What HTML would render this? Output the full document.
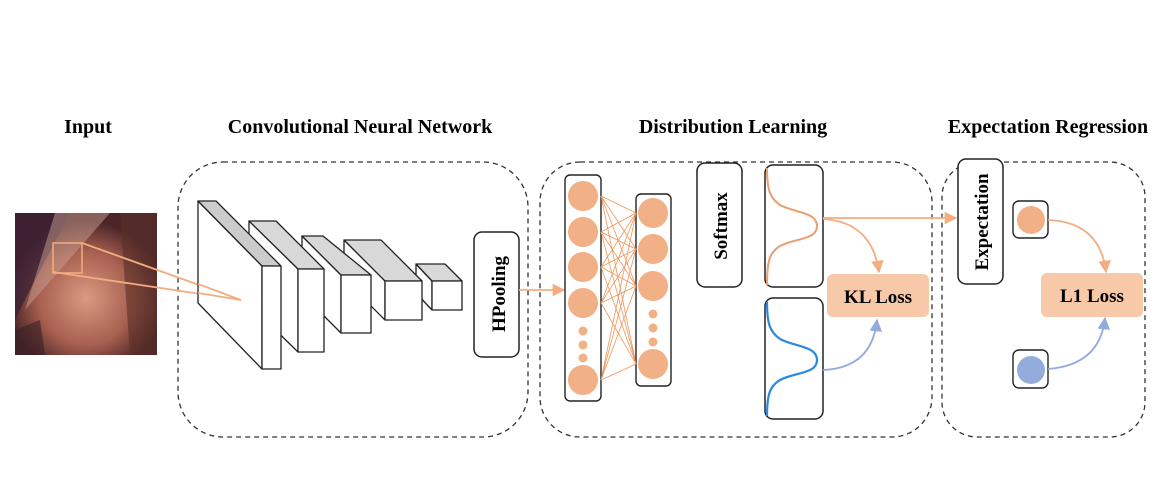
<!DOCTYPE html>
<html><head><style>
body{margin:0;background:#fff;width:1170px;height:492px;overflow:hidden}
text{font-family:"Liberation Serif",serif;font-weight:bold;fill:#000}
</style></head><body>
<svg width="1170" height="492" viewBox="0 0 1170 492" xmlns="http://www.w3.org/2000/svg">
<defs>
<marker id="ao" viewBox="0 0 10 10" refX="9" refY="5" markerWidth="7" markerHeight="7" orient="auto"><path d="M0,0L10,5L0,10z" fill="#f2ad80"/></marker>
<marker id="ab" viewBox="0 0 10 10" refX="9" refY="5" markerWidth="7" markerHeight="7" orient="auto"><path d="M0,0L10,5L0,10z" fill="#93acdc"/></marker>
<radialGradient id="face" cx="0.5" cy="0.6" r="0.55"><stop offset="0" stop-color="#d99a80"/><stop offset="0.6" stop-color="#a86050"/><stop offset="1" stop-color="#4a2428"/></radialGradient>
</defs>
<text x="88" y="133" font-size="20" text-anchor="middle">Input</text>
<text x="360" y="133" font-size="20" text-anchor="middle">Convolutional Neural Network</text>
<text x="733" y="133" font-size="20" text-anchor="middle">Distribution Learning</text>
<text x="1048" y="133" font-size="20" text-anchor="middle">Expectation Regression</text>
<g fill="none" stroke="#333" stroke-width="1.3" stroke-dasharray="5,4">
<rect x="178" y="162" width="350" height="275" rx="45"/>
<rect x="540" y="162" width="392" height="275" rx="40"/>
<rect x="942" y="162" width="203" height="275" rx="35"/>
</g>
<!-- photo -->
<rect x="15" y="213" width="142" height="142" fill="url(#face)"/>
<path d="M15,213 L70,213 L30,290 L15,320z" fill="#3a2035" opacity="0.75"/>
<path d="M120,213 L157,213 L157,355 L130,355z" fill="#5a3028" opacity="0.6"/>
<path d="M55,213 L110,213 L60,270 L25,310z" fill="#c8a090" opacity="0.5"/>
<path d="M15,355 L15,330 L40,320 L45,355z" fill="#3a2025" opacity="0.6"/>
<rect x="53" y="243" width="29" height="30" fill="none" stroke="#f2ad80" stroke-width="1.5"/>
<path d="M82,243 L241,300 L53,272" fill="none" stroke="#f2ad80" stroke-width="1.8"/>
<!-- layers -->
<g stroke="#222" stroke-width="1.3" stroke-linejoin="round">
<polygon points="416,264 432,281 432,310 416,293" fill="#fff"/>
<polygon points="416,264 445,264 462,281 432,281" fill="#d8d8d8"/>
<rect x="432" y="281" width="30" height="29" fill="#fff"/>
<polygon points="344,240 385,281 385,320 344,279" fill="#fff"/>
<polygon points="344,240 381,240 422,281 385,281" fill="#d8d8d8"/>
<rect x="385" y="281" width="37" height="39" fill="#fff"/>
<polygon points="302,236 341,275 341,333 302,294" fill="#fff"/>
<polygon points="302,236 323,236 371,275 341,275" fill="#d8d8d8"/>
<rect x="341" y="275" width="30" height="58" fill="#fff"/>
<polygon points="249,221 298,269 298,352 249,304" fill="#fff"/>
<polygon points="249,221 276,221 324,269 298,269" fill="#d8d8d8"/>
<rect x="298" y="269" width="26" height="83" fill="#fff"/>
<polygon points="198,201 262,266 262,369 198,303" fill="#fff"/>
<polygon points="198,201 216,201 281,266 262,266" fill="#cccccc"/>
<rect x="262" y="266" width="19" height="103" fill="#fff"/>
</g>
<line x1="198" y1="284" x2="241" y2="300" stroke="#f2ad80" stroke-width="1.8"/>
<line x1="198" y1="293" x2="241" y2="300" stroke="#f2ad80" stroke-width="1.8"/>
<rect x="474" y="232" width="45" height="125" rx="8" fill="#fff" stroke="#222" stroke-width="1.5"/>
<text transform="translate(505,294) rotate(-90)" font-size="19" text-anchor="middle">HPooling</text>
<line x1="519" y1="290" x2="564" y2="290" stroke="#f2ad80" stroke-width="1.8" marker-end="url(#ao)"/>
<!-- NN -->
<rect x="565" y="175" width="36" height="226" rx="5" fill="#fff" stroke="#222" stroke-width="1.4"/>
<rect x="636" y="194" width="35" height="192" rx="5" fill="#fff" stroke="#222" stroke-width="1.4"/>
<g stroke="#f0955a" stroke-width="0.8">
<path d="M601,196L636,213M601,196L636,249M601,196L636,286M601,196L636,364
M601,232L636,213M601,232L636,249M601,232L636,286M601,232L636,364
M601,267L636,213M601,267L636,249M601,267L636,286M601,267L636,364
M601,303L636,213M601,303L636,249M601,303L636,286M601,303L636,364
M601,380L636,213M601,380L636,249M601,380L636,286M601,380L636,364"/>
</g>
<g fill="#f2b086">
<circle cx="583" cy="196" r="15"/><circle cx="583" cy="232" r="15"/><circle cx="583" cy="267" r="15"/><circle cx="583" cy="303" r="15"/><circle cx="583" cy="380" r="15"/>
<circle cx="583" cy="331" r="4.5"/><circle cx="583" cy="345" r="4.5"/><circle cx="583" cy="358" r="4.5"/>
<circle cx="653" cy="213" r="15"/><circle cx="653" cy="249" r="15"/><circle cx="653" cy="286" r="15"/><circle cx="653" cy="364" r="15"/>
<circle cx="653" cy="314" r="4.5"/><circle cx="653" cy="328" r="4.5"/><circle cx="653" cy="342" r="4.5"/>
</g>
<rect x="697" y="163" width="45" height="124" rx="8" fill="#fff" stroke="#222" stroke-width="1.5"/>
<text transform="translate(727,226) rotate(-90)" font-size="19" text-anchor="middle">Softmax</text>
<rect x="765" y="165" width="58" height="122" rx="8" fill="#fff" stroke="#222" stroke-width="1.5"/>
<rect x="765" y="298" width="58" height="121" rx="8" fill="#fff" stroke="#222" stroke-width="1.5"/>
<path d="M767,168 C767,190 770,198 780,205 C795,213 817,212 817,226 C817,240 795,238 780,246 C770,252 767,260 767,285" fill="none" stroke="#e8a070" stroke-width="2"/>
<path d="M767,302 C767,324 770,332 780,339 C795,347 817,346 817,360 C817,374 795,372 780,380 C770,386 767,394 767,416" fill="none" stroke="#2a8ae0" stroke-width="2.2"/>
<rect x="827" y="274" width="102" height="43" rx="6" fill="#f8c9a8"/>
<text x="878" y="303" font-size="19" text-anchor="middle">KL Loss</text>
<line x1="823" y1="218" x2="956" y2="218" stroke="#f2ad80" stroke-width="1.8" marker-end="url(#ao)"/>
<path d="M823,219 Q872,222 879,272" fill="none" stroke="#f2ad80" stroke-width="1.8" marker-end="url(#ao)"/>
<path d="M823,370 Q872,368 877,320" fill="none" stroke="#93acdc" stroke-width="1.8" marker-end="url(#ab)"/>
<!-- ER -->
<rect x="958" y="159" width="45" height="125" rx="8" fill="#fff" stroke="#222" stroke-width="1.5"/>
<text transform="translate(988,222) rotate(-90)" font-size="19" text-anchor="middle">Expectation</text>
<rect x="1013" y="201" width="35" height="37" rx="6" fill="#fff" stroke="#222" stroke-width="1.4"/>
<circle cx="1031" cy="220" r="14" fill="#f2b086"/>
<rect x="1013" y="350" width="35" height="38" rx="6" fill="#fff" stroke="#222" stroke-width="1.4"/>
<circle cx="1031" cy="370" r="14" fill="#93acdc"/>
<rect x="1041" y="273" width="102" height="44" rx="6" fill="#f8c9a8"/>
<text x="1092" y="302" font-size="19" text-anchor="middle">L1 Loss</text>
<path d="M1048,220 Q1100,222 1106,272" fill="none" stroke="#f2ad80" stroke-width="1.8" marker-end="url(#ao)"/>
<path d="M1048,369 Q1100,365 1105,318" fill="none" stroke="#93acdc" stroke-width="1.8" marker-end="url(#ab)"/>
</svg>
</body></html>
